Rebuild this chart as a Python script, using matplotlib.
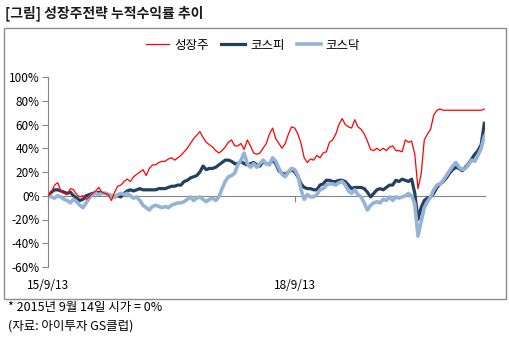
import matplotlib
matplotlib.use("Agg")
import matplotlib.pyplot as plt
from matplotlib.patches import Rectangle
import pandas as pd

plt.rcParams['font.family'] = ['Noto Sans CJK KR', 'DejaVu Sans']

# Cumulative return (%) sampled every two weeks from 2015-09-14
dates = pd.date_range('2015-09-14', periods=139, freq='14D')

growth = [0, 3, 9, 11, 4, 2, 1, 6, 5, 1,
          -1, 0, -3, -1, 2, 4, 7, 3, 2, 1,
          -4, 3, 8, 9, 12, 14, 12, 16, 18, 20,
          22, 17, 23, 26, 26, 28, 29, 29, 31, 32,
          30, 32, 34, 37, 40, 44, 48, 51, 54, 49,
          45, 43, 41, 38, 36, 38, 41, 45, 47, 42,
          42, 44, 39, 47, 42, 36, 35, 36, 40, 44,
          52, 57, 48, 44, 40, 44, 52, 58, 57, 52,
          44, 32, 28, 31, 30, 34, 32, 36, 37, 45,
          47, 52, 60, 65, 60, 58, 57, 64, 58, 56,
          52, 46, 39, 38, 40, 38, 40, 38, 41, 42,
          38, 38, 37, 47, 45, 46, 35, 6, 18, 47,
          52, 56, 68, 72, 73, 72, 72, 72, 72, 72,
          72, 72, 72, 72, 72, 72, 72, 72, 73]

kospi = [0, 3, 5, 5, 4, 3, 2, 3, 0, -2,
         -4, -3, 0, 1, 2, 2, 3, 2, 2, 1,
         0, -1, 0, -1, 2, 4, 5, 4, 5, 6,
         5, 5, 5, 5, 5, 6, 6, 6, 7, 8,
         8, 9, 9, 12, 13, 15, 16, 17, 20, 25,
         22, 23, 23, 24, 26, 28, 30, 30, 29, 27,
         27, 29, 27, 26, 27, 28, 26, 25, 29, 27,
         27, 30, 27, 21, 19, 18, 20, 22, 20, 16,
         10, 7, 6, 6, 5, 5, 9, 10, 13, 13,
         12, 12, 13, 13, 12, 9, 6, 7, 7, 7,
         6, 3, -1, 2, 5, 6, 5, 7, 9, 9,
         13, 12, 14, 13, 12, 14, 2, -20, -10, -4,
         -2, -1, 2, 7, 10, 12, 15, 19, 22, 24,
         23, 21, 24, 27, 31, 35, 38, 43, 61]

kosdaq = [0, -1, -2, 0, -1, -3, -4, -6, -3, -5,
          -8, -10, -6, -2, 1, 2, 1, 2, 2, 1,
          0, -1, 1, 2, 1, 2, 0, -2, -1, -4,
          -8, -10, -12, -9, -8, -9, -10, -9, -10, -8,
          -7, -6, -6, -5, -3, -1, -4, -2, -1, -3,
          -5, -3, -2, -4, -1, 6, 12, 16, 17, 19,
          26, 30, 36, 27, 24, 27, 24, 27, 30, 27,
          26, 32, 29, 23, 18, 16, 20, 23, 22, 17,
          5, -3, 1, -1, -1, 1, 5, 6, 9, 10,
          10, 9, 11, 12, 9, 4, 2, 5, 1, -1,
          -6, -12, -8, -6, -5, -6, -3, -4, -1, -4,
          -1, -2, -1, 0, 2, 0, -7, -34, -22, -10,
          -5, -1, 5, 9, 10, 13, 17, 21, 25, 28,
          24, 22, 23, 26, 30, 29, 34, 40, 50]

series_names = ['성장주', '코스피', '코스닥']
series_colors = ['#FF0000', '#243F60', '#95B3D7']
y_ticks = [-60, -40, -20, 0, 20, 40, 60, 80, 100]
x_tick_dates = ['2015-09-13', '2018-09-13']
x_tick_labels = ['15/9/13', '18/9/13']

W, H = 510, 337
fig = plt.figure(figsize=(W / 100, H / 100), dpi=100)

def fx(px):
    return px / W

def fy(py):
    return 1 - py / H

# outer frame and title
fig.patches.append(Rectangle((fx(4), fy(299)), fx(506) - fx(4), fy(28) - fy(299),
                             transform=fig.transFigure, fill=False,
                             edgecolor='#8C8C8C', linewidth=1.0))
fig.text(fx(5), fy(13), '[그림] 성장주전략 누적수익률 추이', fontsize=10,
         fontweight='bold', va='center', ha='left', color='#1a1a1a')

ax = fig.add_axes([fx(48), fy(267), fx(485) - fx(48), fy(77) - fy(267)])
ax.set_facecolor('none')

lines = []
for vals, name, col, lw, z in zip([growth, kospi, kosdaq], series_names, series_colors,
                                  [0.9, 2.3, 2.6], [3, 2, 2.5]):
    ln, = ax.plot(dates, vals, color=col, linewidth=lw, label=name, zorder=z,
                  solid_joinstyle='round')
    lines.append(ln)

ax.set_ylim(-60, 100)
ax.set_xlim(pd.Timestamp('2015-09-13'), pd.Timestamp('2020-12-31'))
ax.set_yticks(y_ticks)
ax.set_yticklabels([f'{v}%' for v in y_ticks])

for s in ['top', 'right']:
    ax.spines[s].set_visible(False)
ax.spines['left'].set_color('#868686')
ax.spines['bottom'].set_color('#868686')
ax.spines['bottom'].set_position(('data', 0))
ax.spines['bottom'].set_zorder(0.5)

ax.set_xticks([pd.Timestamp(d) for d in x_tick_dates])
ax.set_xticklabels(x_tick_labels)
ax.tick_params(axis='y', direction='out', length=4, color='#868686',
               labelsize=8.5, pad=2, labelcolor='#000000')
ax.tick_params(axis='x', direction='out', length=4, color='#868686',
               labelsize=8.5, pad=56, labelcolor='#000000')

fig.legend(handles=lines, labels=series_names, loc='center',
           bbox_to_anchor=(fx(253), fy(45)), ncol=3, frameon=False,
           fontsize=9, handlelength=1.9, handletextpad=0.4, columnspacing=1.0)

fig.text(fx(8), fy(308), '* 2015년 9월 14일 시가 = 0%', fontsize=9,
         va='center', ha='left', color='#000000')
fig.text(fx(8), fy(326), '(자료: 아이투자 GS클럽)', fontsize=9,
         va='center', ha='left', color='#000000')

fig.savefig('out.png', dpi=100)
